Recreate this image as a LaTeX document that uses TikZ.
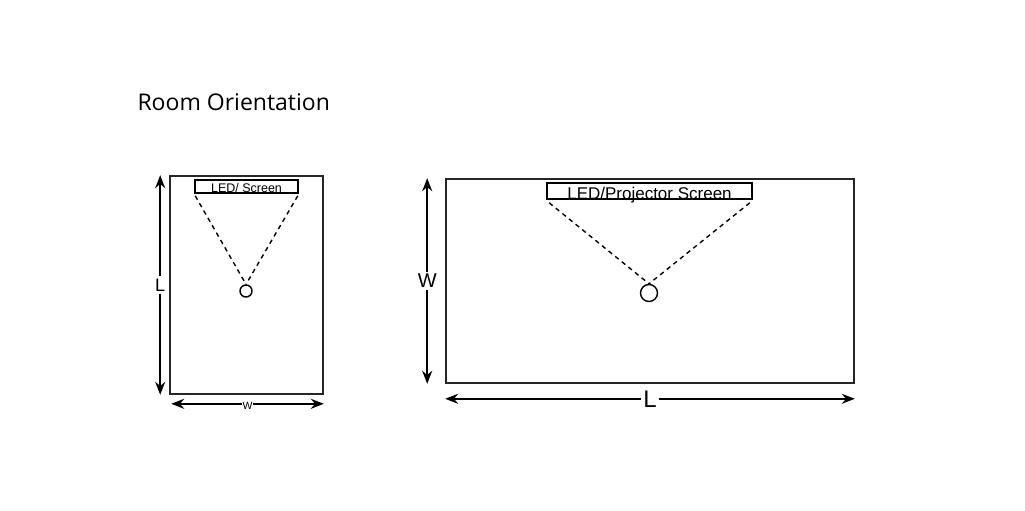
\documentclass[tikz,border=0pt]{standalone}
\usepackage{fontspec}
\usetikzlibrary{positioning,arrows.meta}
\newfontfamily\titlefont{Open Sans}
\newfontfamily\labelfont{Liberation Sans}
\tikzset{roomnode/.style={rectangle, draw=black!85, line width=1.6pt, inner sep=0pt},
screennode/.style={rectangle, draw=black, line width=1.6pt, inner sep=0pt, font=\labelfont},
viewernode/.style={circle, draw=black, line width=1.4pt, inner sep=0pt},
sightline/.style={line width=1.4pt, dash pattern=on 4.5pt off 4pt},
dimarrow/.style={line width=1.8pt, {Stealth[length=13pt,width=10pt]}-{Stealth[length=13pt,width=10pt]}},
dimlabel/.style={fill=white, inner sep=1pt, font=\labelfont},}

\begin{document}
\begin{tikzpicture}[x=1pt, y=-1pt]
\useasboundingbox (0,0) rectangle (1025,511);
\node [anchor=base west, font=\titlefont\fontsize{23}{27}\selectfont] (title) at (134,110) {Room Orientation};
% portrait room
\node [roomnode, minimum width=153pt, minimum height=218pt] (sroom) at (246.5,285) {};
\node [screennode, minimum width=103pt, minimum height=13pt, text height=12pt, text depth=1pt, font=\labelfont\fontsize{12.5}{12.5}\selectfont] (sscreen) at (246.5,186.5) {LED/ Screen};
\node [viewernode, minimum size=12pt] (sviewer) at (246,291) {};
\draw[sightline] ([xshift=1pt,yshift=-2pt]sscreen.south west) -- (sviewer.north);
\draw[sightline] ([xshift=-1pt,yshift=-2pt]sscreen.south east) -- (sviewer.north);
\draw[dimarrow] ([xshift=-9pt]sroom.north west) -- node[dimlabel, inner sep=3pt, font=\labelfont\fontsize{18}{18}\selectfont] (sl) {L} ([xshift=-9pt]sroom.south west);
\draw[dimarrow] ([xshift=2pt,yshift=-9pt]sroom.south west) -- node[dimlabel, inner sep=0.5pt, yshift=-2pt, font=\labelfont\fontsize{10.5}{10.5}\selectfont] (sw) {W} ([yshift=-9pt]sroom.south east);
% landscape room
\node [roomnode, minimum width=408pt, minimum height=204pt] (lroom) at (650,281) {};
\node [screennode, minimum width=205pt, minimum height=16pt, text height=16pt, text depth=0pt, font=\labelfont\fontsize{17}{17}\selectfont] (lscreen) at (649.5,191) {LED/Projector Screen};
\node [viewernode, minimum size=17pt] (lviewer) at (649,293) {};
\draw[sightline] ([xshift=3pt,yshift=-3pt]lscreen.south west) -- (lviewer.north);
\draw[sightline] ([xshift=-3pt,yshift=-3pt]lscreen.south east) -- (lviewer.north);
\draw[dimarrow] ([xshift=-18pt]lroom.north west) -- node[dimlabel, inner sep=2pt, font=\labelfont\fontsize{20}{20}\selectfont] (lw) {W} ([xshift=-18pt]lroom.south west);
\draw[dimarrow] ([yshift=-15pt]lroom.south west) -- node[dimlabel, inner sep=2pt, font=\labelfont\fontsize{24}{24}\selectfont] (ll) {L} ([yshift=-15pt]lroom.south east);
\end{tikzpicture}
\end{document}
